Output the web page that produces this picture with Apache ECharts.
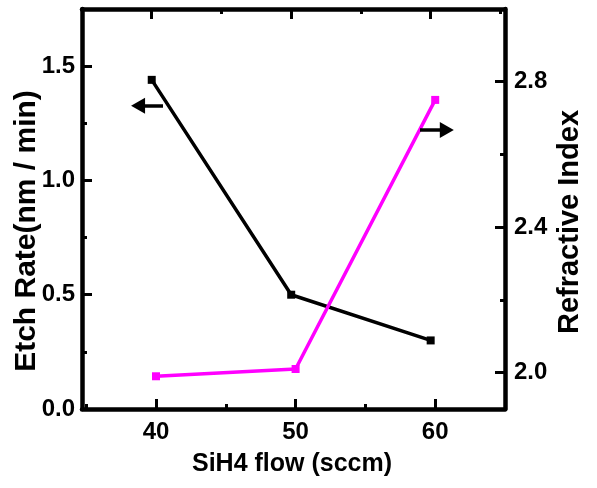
<!DOCTYPE html>
<html>
<head>
<meta charset="utf-8">
<script src="https://cdn.jsdelivr.net/npm/echarts@6/dist/echarts.min.js"></script>
<style>
html,body{margin:0;padding:0;background:#fff;}
#chart{width:597px;height:488px;}
</style>
</head>
<body>
<div id="chart"></div>
<script>
// ---- data ----
const sih4Flow = [40, 50, 60];
const etchRate = [1.44, 0.50, 0.30];
const refractiveIndex = [1.99, 2.01, 2.75];

const xMajorTicks = [40, 50, 60];
const xMinorBottom = [35, 45, 55];
const xMinorTop = [45, 55, 65];
const leftMajorTicks = [0, 0.5, 1.0, 1.5];
const leftMinorTicks = [0.25, 0.75, 1.25];
const rightMajorTicks = [2.0, 2.4, 2.8];
const rightMinorTicks = [2.2, 2.6];

const xTitle = 'SiH4 flow (sccm)';
const leftTitle = 'Etch Rate(nm / min)';
const rightTitle = 'Refractive Index';

// arrow annotations (data space)
const leftArrow = { from: [39.02, 1.327], to: [40.81, 1.327] };
const rightArrow = { from: [60.83, 2.667], to: [58.91, 2.667] };

const FONT = '"Liberation Sans", Arial, sans-serif';
const lab = { color: '#000', fontFamily: FONT, fontWeight: 'bold', fontSize: 24 };
const lineS = { color: '#000', width: 4.5 };

const chart = echarts.init(document.getElementById('chart'));
const gridRect = { left: 82, top: 9, width: 423, height: 400 };

function pairs(xs, ys) { return xs.map((x, i) => [x, ys[i]]); }

chart.setOption({
  animation: false,
  backgroundColor: '#fff',
  grid: [Object.assign({}, gridRect), Object.assign({}, gridRect)],
  xAxis: [
    { gridIndex: 0, type: 'value', position: 'bottom', min: 34.7, max: 65,
      axisLine: { onZero: false, lineStyle: lineS },
      axisTick: { inside: true, length: 10, customValues: xMajorTicks, lineStyle: { color: '#000', width: 3 } },
      axisLabel: Object.assign({ customValues: xMajorTicks, margin: 11 }, lab),
      splitLine: { show: false } },
    { gridIndex: 0, type: 'value', position: 'top', min: 35, max: 65.33,
      axisLine: { onZero: false, lineStyle: lineS },
      axisTick: { inside: true, length: 10, customValues: xMajorTicks, lineStyle: { color: '#000', width: 3 } },
      axisLabel: { show: false }, splitLine: { show: false } },
    { gridIndex: 1, type: 'value', position: 'bottom', min: 34.7, max: 65,
      axisLine: { show: false },
      axisTick: { inside: true, length: 5, customValues: xMinorBottom, lineStyle: { color: '#000', width: 3 } },
      axisLabel: { show: false }, splitLine: { show: false } },
    { gridIndex: 1, type: 'value', position: 'top', min: 35, max: 65.33,
      axisLine: { show: false },
      axisTick: { inside: true, length: 5, customValues: xMinorTop, lineStyle: { color: '#000', width: 3 } },
      axisLabel: { show: false }, splitLine: { show: false } }
  ],
  yAxis: [
    { gridIndex: 0, type: 'value', position: 'left', min: 0, max: 1.75,
      axisLine: { show: true, onZero: false, lineStyle: lineS },
      axisTick: { show: true, inside: true, length: 10, customValues: leftMajorTicks, lineStyle: { color: '#000', width: 3 } },
      axisLabel: Object.assign({ customValues: leftMajorTicks, margin: 7, formatter: v => v.toFixed(1) }, lab),
      splitLine: { show: false } },
    { gridIndex: 0, type: 'value', position: 'right', min: 1.9, max: 3.0,
      axisLine: { show: true, onZero: false, lineStyle: lineS },
      axisTick: { show: true, inside: true, length: 10, customValues: rightMajorTicks, lineStyle: { color: '#000', width: 3 } },
      axisLabel: Object.assign({ customValues: rightMajorTicks, margin: 9, formatter: v => v.toFixed(1) }, lab),
      splitLine: { show: false } },
    { gridIndex: 1, type: 'value', position: 'left', min: 0, max: 1.75,
      axisLine: { show: false },
      axisTick: { show: true, inside: true, length: 5, customValues: leftMinorTicks, lineStyle: { color: '#000', width: 3 } },
      axisLabel: { show: false }, splitLine: { show: false } },
    { gridIndex: 1, type: 'value', position: 'right', min: 1.9, max: 3.0,
      axisLine: { show: false },
      axisTick: { show: true, inside: true, length: 5, customValues: rightMinorTicks, lineStyle: { color: '#000', width: 3 } },
      axisLabel: { show: false }, splitLine: { show: false } }
  ],
  series: [
    { name: 'Etch Rate', type: 'line', xAxisIndex: 1, yAxisIndex: 0,
      data: pairs(sih4Flow, etchRate),
      symbol: 'rect', symbolSize: 8, showAllSymbol: true,
      lineStyle: { color: '#000', width: 3.5 }, itemStyle: { color: '#000' },
      markLine: { silent: true, symbol: ['triangle', 'none'], symbolSize: [16, 14],
        label: { show: false }, lineStyle: { color: '#000', width: 3.5, type: 'solid' },
        data: [[{ coord: leftArrow.from }, { coord: leftArrow.to }]] } },
    { name: 'Refractive Index', type: 'line', xAxisIndex: 0, yAxisIndex: 1,
      data: pairs(sih4Flow, refractiveIndex),
      symbol: 'rect', symbolSize: 8, showAllSymbol: true,
      lineStyle: { color: '#ff00ff', width: 3.5 }, itemStyle: { color: '#ff00ff' },
      markLine: { silent: true, symbol: ['triangle', 'none'], symbolSize: [16, 14],
        label: { show: false }, lineStyle: { color: '#000', width: 3.5, type: 'solid' },
        data: [[{ coord: rightArrow.from }, { coord: rightArrow.to }]] } }
  ],
  graphic: [
    { type: 'text', x: 292, y: 464,
      style: { text: xTitle, align: 'center', verticalAlign: 'middle', fill: '#000',
        font: 'bold 25px ' + FONT } },
    { type: 'text', x: 27, y: 231, rotation: Math.PI / 2,
      style: { text: leftTitle, align: 'center', verticalAlign: 'middle', fill: '#000',
        font: 'bold 30px ' + FONT } },
    { type: 'text', x: 570, y: 222, rotation: Math.PI / 2,
      style: { text: rightTitle, align: 'center', verticalAlign: 'middle', fill: '#000',
        font: 'bold 29px ' + FONT } }
  ]
});
</script>
</body>
</html>
